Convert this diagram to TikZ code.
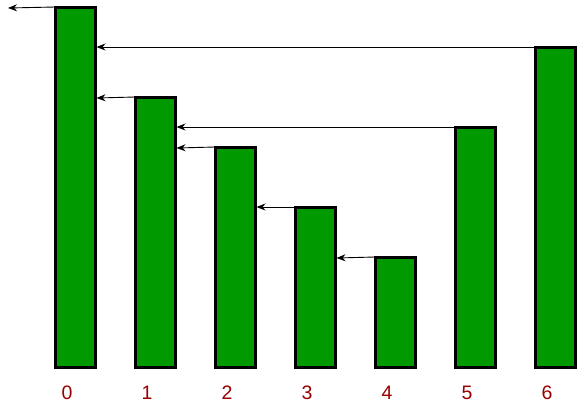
\documentclass[tikz,border=0pt]{standalone}
\usepackage{fontspec}
\setmainfont{Liberation Sans}
\usetikzlibrary{arrows.meta}
\definecolor{bargreen}{HTML}{009900}
\definecolor{labred}{HTML}{990000}
\begin{document}
\begin{tikzpicture}[x=1pt,y=-1pt,
  bar/.style={draw=black,fill=bargreen,line width=3pt,minimum width=40pt,inner sep=0pt,outer sep=0pt,anchor=south west},
  lab/.style={text=labred,font=\fontsize{19.5}{21}\selectfont,inner sep=0pt},
  ptr/.style={-{Stealth[length=9pt,width=7pt]},line width=0.9pt,black}]
\useasboundingbox (0,0) rectangle (577,408);
\node[bar,minimum height=360pt] (b0) at (55,367) {};
\node[bar,minimum height=270pt] (b1) at (135,367) {};
\node[bar,minimum height=220pt] (b2) at (215,367) {};
\node[bar,minimum height=160pt] (b3) at (295,367) {};
\node[bar,minimum height=110pt] (b4) at (375,367) {};
\node[bar,minimum height=240pt] (b5) at (455,367) {};
\node[bar,minimum height=320pt] (b6) at (535,367) {};
\foreach \i/\x in {0/67,1/147,2/227,3/307,4/387,5/467,6/547}
  \node[lab] (l\i) at (\x,393) {\i};
\coordinate (e) at (8,8);
\draw[ptr] (b0.north west) -- (e);
\draw[ptr] (b6.north west) -- ([xshift=1.5pt]b0.east |- b6.north west);
\draw[ptr] (b1.north west) -- ([xshift=1.5pt,yshift=-1pt]b0.east |- b1.north west);
\draw[ptr] (b5.north west) -- ([xshift=1.5pt]b1.east |- b5.north west);
\draw[ptr] (b2.north west) -- ([xshift=1.5pt,yshift=-1pt]b1.east |- b2.north west);
\draw[ptr] (b3.north west) -- ([xshift=1.5pt]b2.east |- b3.north west);
\draw[ptr] (b4.north west) -- ([xshift=1.5pt,yshift=-1pt]b3.east |- b4.north west);
\end{tikzpicture}
\end{document}
